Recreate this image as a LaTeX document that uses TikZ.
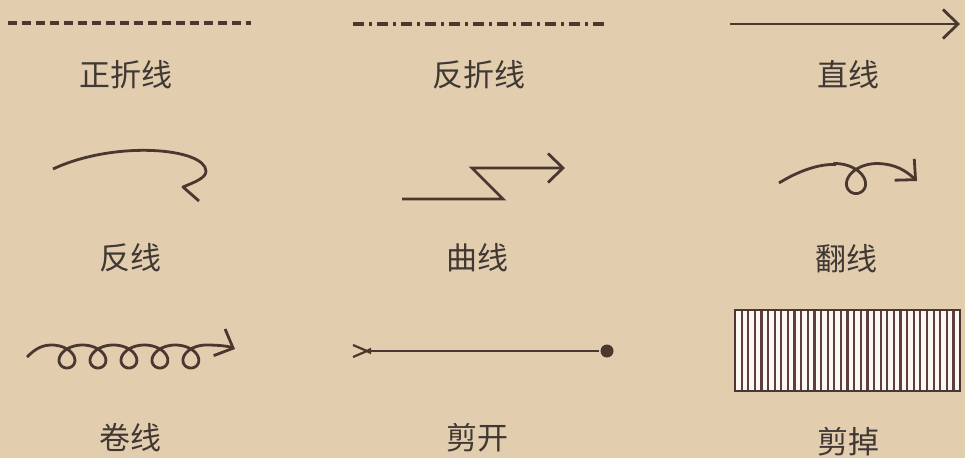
\documentclass[tikz,border=0pt]{standalone}
\usepackage{fontspec}
\setmainfont{Noto Sans CJK SC}
\usetikzlibrary{arrows.meta}
\definecolor{paper}{RGB}{226,206,174}
\definecolor{ink}{RGB}{74,56,48}
\definecolor{inktext}{RGB}{64,56,52}
\definecolor{stripe}{RGB}{96,62,64}
\begin{document}
\begin{tikzpicture}[x=1pt, y=-1pt, line width=2.8pt, color=ink,
		barb/.style={-{Straight Barb[length=15pt, width=29pt]}}]
		\fill[paper] (0,0) rectangle (965,458);
		\useasboundingbox (0,0) rectangle (965,458);
		\begin{scope}[every node/.style={text=inktext, font=\fontsize{31}{31}\selectfont}]
			\node (zheng) at (126,75) {正折线};
			\node (fanzhe) at (479,75) {反折线};
			\node (zhi) at (848,75) {直线};
			\node (fan) at (130,258) {反线};
			\node (qu) at (477,258) {曲线};
			\node (fanxian) at (846,259) {翻线};
			\node (juan) at (130,438) {卷线};
			\node (jiankai) at (477,438) {剪开};
			\node (jiandiao) at (848,442) {剪掉};
		\end{scope}
		\coordinate (z1) at (8,23);
		\coordinate (z2) at (251,23);
		\coordinate (f1) at (353,24);
		\coordinate (f2) at (607,24);
		\coordinate (s1) at (730,24);
		\coordinate (s2) at (960,24);
		\draw[line width=3.4pt, dash pattern=on 9pt off 5pt] (z1) -- (z2);
		\draw[line width=3.4pt, dash pattern=on 11pt off 5pt on 3pt off 5pt] (f1) -- (f2);
		\draw[barb] (s1) -- (s2);
		% fan xian
		\draw[line join=round] (53,169) .. controls (115,140) and (205,148) .. (206,171)
			.. controls (206,178) and (195,182) .. (183,187) -- (199,201);
		% qu xian
		\draw[barb, line join=miter] (402,199) -- (503,199) -- (472,168) -- (565,168);
		% fan (loop)
		\draw[barb] (779,183) .. controls (800,170) and (820,164) .. (834.6,164.5)
			-- plot[domain=0:2*pi, samples=80, variable=\t] ({856+6.8*(\t-pi)+19*sin(\t r)}, {178.5-15*cos(\t r)})
			.. controls (895,164) and (905,170) .. (917,181);
		% juan xian
		\draw[barb] (27,357) .. controls (35,349) and (42,345) .. (51.5,345)
			-- plot[domain=0:10*pi, samples=300, variable=\t] ({51.5+4.93*\t+14.85*sin(\t r)}, {356.5-11.5*cos(\t r)})
			.. controls (218,345) and (228,346) .. (235,349);
		% jian kai
		\node[circle, fill=ink, inner sep=0pt, minimum size=13pt] (dot) at (607,351) {};
		\coordinate (tail) at (363,351);
		\draw[{Latex[length=8pt, width=7pt]}-, line width=2.2pt] (tail) -- (dot);
		\draw[line width=2.2pt] (353,345) -- (367,351) -- (353,357);
		% jian diao
		\filldraw[fill=white!88!paper, line width=2.4pt] (735,310) rectangle (960,391);
		\foreach \i in {1,...,33}
			\draw[stripe, line width=2.2pt] (735+\i*6.62,311) -- (735+\i*6.62,390);
	\end{tikzpicture}
\end{document}
